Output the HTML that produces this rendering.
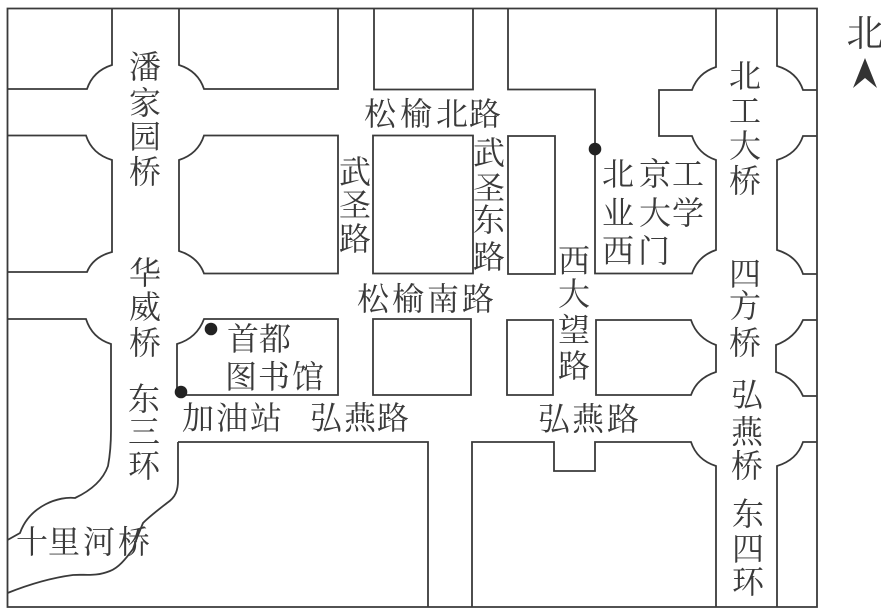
<!DOCTYPE html>
<html lang="zh">
<head>
<meta charset="utf-8">
<title>地图</title>
<style>
html,body{margin:0;padding:0;background:#fff;width:881px;height:612px;overflow:hidden}
svg{display:block}
text{font-family:"Liberation Serif","Noto Serif CJK SC",serif;font-size:32px;fill:#3a3a3a;text-anchor:middle}
path{fill:none;stroke:#3a3a3a;stroke-width:1.8}
</style>
</head>
<body>
<svg width="881" height="612" viewBox="0 0 881 612" xmlns="http://www.w3.org/2000/svg">
<rect x="0" y="0" width="881" height="612" fill="#fff"/>
<path d="M7.500 8.500H817V607H7.500Z"/>
<path d="M7.500 89H87Q93 71 112 65V8.500"/>
<path d="M179 8.500V65Q198 71 204 89H338V8.500"/>
<path d="M374 8.500V89.500H473V8.500"/>
<path d="M508 8.500V89.500H595V273.500H692Q698 256 716 250V160Q698 154 692 136H659V90H692Q698 73 716 67V8.500"/>
<path d="M777 8.500V66Q797 72 803 90H817"/>
<path d="M817 136H803Q797 154 777 160V250Q797 256 803 274H817"/>
<path d="M7.500 135.500H86Q92 154 112 160V252Q93 257 87 272H7.500"/>
<path d="M204 135.500H338V273.500H204Q198 257 179 251V160Q198 154 204 135.500Z"/>
<path d="M373 135.500H473V273.500H373Z"/>
<path d="M508 136H555V274H508Z"/>
<path d="M7.500 319H86Q92 338 111 344V430Q111 450 108 466C103 480 92 490 75 498C60 496 30 505 20 533L7.500 540"/>
<path d="M204 319H338V395H177V344Q197 338 204 319Z"/>
<path d="M373 319H471V395H373Z"/>
<path d="M507 320H553V395H507Z"/>
<path d="M596 320H691Q697 338 716 345V372Q697 378 691 395H596Z"/>
<path d="M817 320H803Q795 338 776 345V372Q795 378 803 396H817"/>
<path d="M178 442V480C178 490 176 497 167 503C158 510 150 516 143 523C138 535 135 543 133 549C125 560 118 568 110 571C95 577 85 574 73 575C50 578 30 584 7.500 593"/>
<path d="M178 442H428V607"/>
<path d="M472 607V442H554V471H595V442H691Q697 460 716 466V607"/>
<path d="M777 607V466Q797 460 803 442H817"/>
<circle cx="595" cy="149" r="6.300" fill="#222"/>
<circle cx="211" cy="329" r="6.300" fill="#222"/>
<circle cx="181" cy="392" r="6.300" fill="#222"/>
<path d="M865 58L877 88L865 78L853 88Z" style="fill:#333;stroke:none"/>
<g transform="translate(0,1)">
<text x="145 145 145 145" y="77 113 147 182">潘家园桥</text>
<text x="145 145 145" y="283 317 353">华威桥</text>
<text x="144 144 144" y="409 442 476">东三环</text>
<text x="355 355 355" y="182 215 249">武圣路</text>
<text x="380 416 452 485" y="124">松榆北路</text>
<text x="489 489 489 489" y="163 198 230 267">武圣东路</text>
<text x="618 655 688" y="184">北京工</text>
<text x="618 655 688" y="223">业大学</text>
<text x="618 654" y="261">西门</text>
<text x="745 745 745 745" y="86 121 156 191">北工大桥</text>
<text x="574 574 574 574" y="271 304 340 376">西大望路</text>
<text x="745 745 745" y="284 316 353">四方桥</text>
<text x="747 747 747" y="405 442 476">弘燕桥</text>
<text x="748 748 748" y="524 559 592">东四环</text>
<text x="373 408 443 478" y="309">松榆南路</text>
<text x="243 275" y="349">首都</text>
<text x="241 274 308" y="387">图书馆</text>
<text x="198 232 266" y="428">加油站</text>
<text x="326 360 393" y="428">弘燕路</text>
<text x="554 588 623" y="429">弘燕路</text>
<text x="32 64 99 134" y="552">十里河桥</text>
</g>
<text x="865" y="46" style="font-size:37px">北</text>
</svg>
</body>
</html>
